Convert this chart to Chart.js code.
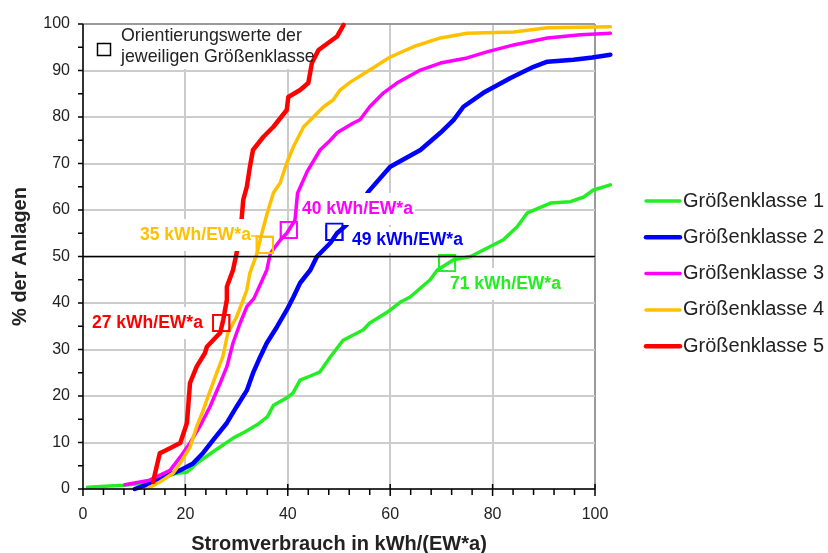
<!DOCTYPE html>
<html>
<head>
<meta charset="utf-8">
<script src="https://cdn.jsdelivr.net/npm/chart.js@4.4.0/dist/chart.umd.min.js"></script>
<style>
  html, body { margin: 0; padding: 0; background: #fff; }
  canvas { display: block; }
</style>
</head>
<body>
<canvas id="chartSummenkurve" width="828" height="553"></canvas>
<script>
// Summenkurven Stromverbrauch je Größenklasse

// Größenklasse 1
const gk1X = [0.9, 7.8, 14.4, 16.5, 18.4, 20.3, 22.2, 25.4, 29.4, 31.5, 34, 36, 37.2, 39.8, 41, 42.4, 44.4, 46.3, 48.3, 50.8, 54.7, 56, 59.4, 62, 63.9, 67.8, 69.2, 72.4, 75.7, 78.2, 82.1, 84.8, 86.8, 91.3, 95.2, 97.8, 99.7, 103];
const gk1Y = [0.4, 0.8, 1.5, 2.8, 3.4, 3.6, 5.5, 8, 11, 12.2, 13.8, 15.5, 18, 19.6, 20.6, 23.4, 24.3, 25.2, 28.4, 32, 34.2, 35.7, 38, 40.2, 41.3, 45, 47.1, 49.3, 50, 51.4, 53.6, 56.4, 59.4, 61.5, 61.8, 62.8, 64.3, 65.4];

// Größenklasse 2
const gk2X = [10.1, 12.4, 15, 18.9, 21.5, 23.5, 25.4, 28.1, 30, 32, 33.2, 34.6, 35.9, 37.9, 39.8, 41.1, 42.4, 44.4, 45.7, 48.3, 49.6, 51.5, 55.7, 60, 65.9, 69.8, 72.4, 74.3, 78.2, 83.5, 88, 90.7, 95.8, 99.5, 103];
const gk2Y = [0, 0.9, 2.3, 4, 5.5, 7.8, 10.5, 14.2, 17.7, 21.2, 24.9, 28.4, 31.4, 34.9, 38.5, 41.3, 44.3, 47.1, 50, 52.9, 55, 56.8, 63.9, 69.3, 72.9, 76.6, 79.4, 82.2, 85.2, 88.4, 90.8, 91.9, 92.3, 92.8, 93.4];

// Größenklasse 3
const gk3X = [8.2, 13, 17, 19, 20.9, 22.8, 24.8, 26.8, 28.1, 29.3, 30.7, 32, 33.4, 35.9, 36.6, 38.5, 39.8, 41.4, 41.6, 41.9, 43.8, 46.3, 48.3, 49.6, 52.8, 54.1, 56, 58.7, 61.3, 65.9, 69.8, 75, 78.9, 84.1, 90.7, 97.2, 103];
const gk3Y = [0.9, 1.9, 4, 6.9, 9.9, 13.4, 17.7, 22.8, 26.3, 31.4, 35.7, 39.2, 41, 47.1, 50.7, 53.5, 55, 57.8, 60, 63.6, 68.3, 72.9, 75, 76.6, 78.7, 79.4, 82.2, 85.2, 87.3, 90.1, 91.6, 92.7, 94, 95.5, 97, 97.7, 98];

// Größenklasse 4
const gk4X = [12.7, 15, 17.6, 19, 20.9, 22.2, 23.5, 24.4, 26.1, 27.3, 28.3, 30, 31.3, 32, 32.6, 34, 34.6, 36, 37.2, 38.5, 39.8, 41.1, 43.1, 45, 47, 48.9, 50.2, 52.2, 56, 60, 64.5, 69.8, 75, 84.1, 90.7, 103];
const gk4Y = [0.2, 1.5, 3.4, 5.6, 9, 13.4, 17, 19.8, 24.9, 28.4, 33.6, 37, 40.7, 42.8, 46.5, 50.7, 53.6, 59.4, 63.7, 65.8, 70.1, 73.6, 77.9, 80, 82.2, 83.7, 85.8, 87.5, 90.1, 92.9, 95.1, 97, 98, 98.3, 99.2, 99.4];

// Größenklasse 5
const gk5X = [13.7, 14, 15, 16.3, 19, 20.3, 20.9, 22.2, 23.8, 24.2, 25.4, 26.8, 27.4, 28.1, 28.1, 29.3, 30, 31, 31.3, 32, 32.6, 33.2, 35.2, 37.2, 39.8, 40.1, 42.4, 44, 44.7, 46, 49.6, 50.9];
const gk5Y = [1.5, 3, 7.7, 8.4, 9.9, 14.2, 22.8, 26.3, 29.2, 30.6, 32, 33.6, 36.4, 40.7, 43.5, 47.1, 50.7, 58.3, 62.2, 65, 69.3, 72.9, 75.7, 77.9, 81.5, 84.3, 85.8, 87.3, 91.6, 94.4, 97.3, 99.8];

// Orientierungswerte (Klasse 1..5)
const orientX = [71.1, 49.1, 40.2, 35.5, 27];
const orientY = [48.6, 55.3, 55.7, 52.5, 35.7];
const orientLabels = ['71 kWh/EW*a', '49 kWh/EW*a', '40 kWh/EW*a', '35 kWh/EW*a', '27 kWh/EW*a'];

const classNames = ['Größenklasse 1', 'Größenklasse 2', 'Größenklasse 3', 'Größenklasse 4', 'Größenklasse 5'];
const xTicks = [0, 20, 40, 60, 80, 100];
const yTicks = [0, 10, 20, 30, 40, 50, 60, 70, 80, 90, 100];

// Stil
const classColors = ['#22ee22', '#0000ff', '#ff00ff', '#ffc000', '#ff0000'];
const classWidths = [3.5, 4.5, 3.5, 3.5, 4.5];
// Position der Beschriftungen (links, Mitte y) in Pixel
const labelPos = [[450, 284], [352, 240], [302, 209], [140, 235], [92, 323]];
const FONT = "'Liberation Sans', Arial, sans-serif";

const seriesX = [gk1X, gk2X, gk3X, gk4X, gk5X];
const seriesY = [gk1Y, gk2Y, gk3Y, gk4Y, gk5Y];

const datasets = classNames.map((name, i) => ({
    label: name,
    data: seriesX[i].map((x, k) => ({ x: x, y: seriesY[i][k] })),
    borderColor: classColors[i],
    borderWidth: classWidths[i],
    pointRadius: 0,
    tension: 0,
    clip: false,
    borderJoinStyle: 'round',
    borderCapStyle: 'round',
    order: 6 - i,
}));

// Quadrate der Orientierungswerte
datasets.push({
    label: 'Orientierungswerte',
    data: orientX.map((x, k) => ({ x: x, y: orientY[k] })),
    showLine: false,
    pointStyle: 'rect',
    pointRadius: 11.5,
    pointBorderWidth: 1.8,
    pointBorderColor: classColors,
    pointBackgroundColor: 'rgba(0,0,0,0)',
    clip: false,
    order: 0,
});

// Achsen, Teilstriche, 50%-Linie, Beschriftungen
const overlayPlugin = {
    id: 'overlay',
    afterDatasetsDraw(chart) {
        const { ctx, chartArea: a, scales: { x, y } } = chart;
        ctx.save();

        // Beschriftungen mit weissem Hintergrund
        ctx.font = 'bold 17.5px ' + FONT;
        ctx.textBaseline = 'middle';
        ctx.textAlign = 'left';
        orientLabels.forEach((txt, i) => {
            const [lx, ly] = labelPos[i];
            const w = ctx.measureText(txt).width;
            const h = (i === 1) ? 13 : 16;
            ctx.fillStyle = '#fff';
            ctx.fillRect(lx - 2, ly - h, w + 4, h * 2);
            ctx.fillStyle = classColors[i];
            ctx.fillText(txt, lx, ly);
        });
        // Verbindungsstrich 35 kWh
        ctx.strokeStyle = classColors[3];
        ctx.lineWidth = 1.5;
        ctx.beginPath();
        ctx.moveTo(251, 236); ctx.lineTo(259, 236);
        ctx.stroke();

        // Infokasten
        ctx.fillStyle = '#fff';
        ctx.fillRect(90, 25, 216, 44);
        ctx.strokeStyle = '#000';
        ctx.lineWidth = 1.5;
        ctx.strokeRect(97.5, 43.5, 13, 12);
        ctx.fillStyle = '#222';
        ctx.font = '17.8px ' + FONT;
        ctx.fillText('Orientierungswerte der', 121, 36);
        ctx.fillText('jeweiligen Größenklasse', 121, 57);

        // Quadrate über den Beschriftungsflächen erneut zeichnen
        chart.getDatasetMeta(5).controller.draw();

        // 50%-Linie
        ctx.strokeStyle = '#000';
        ctx.lineWidth = 1.5;
        ctx.beginPath();
        const y50 = y.getPixelForValue(50);
        ctx.moveTo(a.left, y50); ctx.lineTo(a.right, y50);
        ctx.stroke();

        // Achsen und Teilstriche
        ctx.beginPath();
        ctx.moveTo(a.left, a.top); ctx.lineTo(a.left, a.bottom); ctx.lineTo(a.right, a.bottom);
        for (let v = 0; v <= 100; v += 4) {
            const px = x.getPixelForValue(v);
            ctx.moveTo(px, a.bottom); ctx.lineTo(px, a.bottom + 6);
        }
        for (let v = 0; v <= 100; v += 20) {
            const px = x.getPixelForValue(v);
            ctx.moveTo(px, a.bottom - 5); ctx.lineTo(px, a.bottom + 7);
        }
        for (let v = 0; v <= 100; v += 5) {
            const py = y.getPixelForValue(v);
            ctx.moveTo(a.left - 5, py); ctx.lineTo(a.left, py);
        }
        ctx.stroke();
        ctx.restore();
    },
    afterDraw(chart) {
        const { ctx } = chart;
        ctx.save();
        ctx.font = '20px ' + FONT;
        ctx.textBaseline = 'middle';
        ctx.textAlign = 'left';
        classNames.forEach((name, i) => {
            const ly = 201 + i * 36.3;
            ctx.strokeStyle = classColors[i];
            ctx.lineWidth = classWidths[i];
            ctx.lineCap = 'round';
            ctx.beginPath();
            ctx.moveTo(646, ly); ctx.lineTo(680, ly);
            ctx.stroke();
            ctx.fillStyle = '#222';
            ctx.fillText(name, 683, ly);
        });
        ctx.restore();
    }
};

new Chart(document.getElementById('chartSummenkurve'), {
    type: 'line',
    data: { datasets: datasets },
    options: {
        responsive: false,
        animation: false,
        events: [],
        layout: { padding: { left: 0, top: 24, right: 233, bottom: 0 } },
        plugins: { legend: { display: false }, tooltip: { enabled: false } },
        scales: {
            x: {
                type: 'linear',
                min: 0,
                max: 100,
                afterBuildTicks: (s) => { s.ticks = xTicks.map(v => ({ value: v })); },
                afterFit: (s) => { s.height = 64; },
                ticks: { padding: 16, color: '#222', font: { family: FONT, size: 16 }, maxRotation: 0 },
                grid: {
                    color: (c) => (c.tick && c.tick.value === 100) ? '#9a9a9a' : '#cccccc',
                    lineWidth: 2,
                    drawTicks: false,
                },
                border: { display: false },
                title: {
                    display: true,
                    text: 'Stromverbrauch in kWh/(EW*a)',
                    color: '#222',
                    font: { family: FONT, size: 20, weight: 'bold' },
                    padding: { top: 0, bottom: -3 },
                },
            },
            y: {
                type: 'linear',
                min: 0,
                max: 100,
                afterBuildTicks: (s) => { s.ticks = yTicks.map(v => ({ value: v })); },
                afterFit: (s) => { s.width = 83; },
                ticks: { padding: 13, color: '#222', font: { family: FONT, size: 16 } },
                grid: {
                    color: (c) => (c.tick && c.tick.value === 100) ? '#9a9a9a' : '#cccccc',
                    lineWidth: 2,
                    drawTicks: false,
                },
                border: { display: false },
                title: {
                    display: true,
                    text: '% der Anlagen',
                    color: '#222',
                    font: { family: FONT, size: 20, weight: 'bold' },
                    padding: { top: 8, bottom: 0 },
                },
            },
        },
    },
    plugins: [overlayPlugin],
});
</script>
</body>
</html>
